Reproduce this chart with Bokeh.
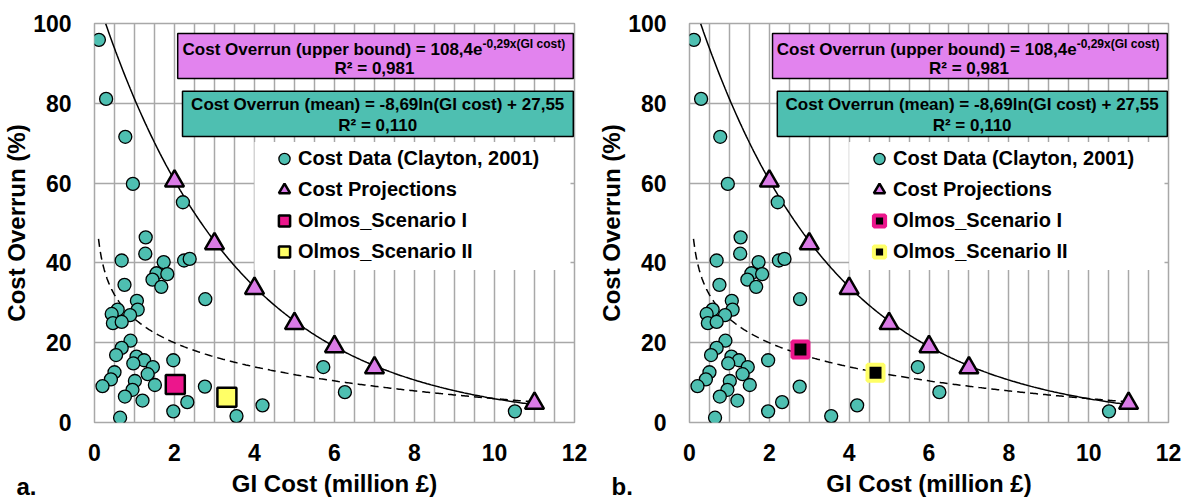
from bokeh.plotting import figure
from bokeh.layouts import row
from bokeh.models import Range1d, SingleIntervalTicker, Title
from bokeh.core.properties import value
from bokeh.embed import file_html
from bokeh.resources import INLINE
import numpy as np

# ---------------- data ----------------
cost_x = [0.11, 0.29, 0.77, 0.96, 2.21, 1.28, 1.27, 0.68, 1.73, 2.24,
          2.38, 1.55, 1.82, 1.45, 1.67, 0.75, 2.77, 1.06, 1.08, 0.58,
          0.43, 0.89, 0.46, 0.68, 0.90, 0.68, 0.54, 1.05, 1.24, 0.97,
          1.46, 1.33, 0.50, 0.41, 0.20, 1.01, 1.51, 0.95, 0.76, 1.20,
          1.97, 1.97, 2.32, 2.76, 3.55, 4.20, 0.64, 5.72, 6.26, 10.51]
cost_y = [95.9, 81.1, 71.6, 59.8, 55.2, 46.4, 42.3, 40.6, 40.2, 40.6,
          41.0, 37.4, 37.2, 35.8, 34.0, 34.5, 30.9, 30.5, 28.3, 28.3,
          27.2, 26.9, 24.9, 25.2, 20.5, 18.7, 16.9, 16.5, 15.6, 14.8,
          13.9, 12.1, 12.6, 10.8, 9.1, 10.4, 9.4, 8.2, 6.5, 5.5,
          15.6, 2.8, 5.1, 9.0, 1.6, 4.3, 1.2, 13.9, 7.6, 2.8]

proj_x = [2, 3, 4, 5, 6, 7, 11]
proj_y = [60.5, 44.8, 33.6, 24.8, 19.0, 13.7, 4.8]

olmos_a_x = [2.02, 3.31]
olmos_a_y = [9.5, 6.3]
olmos_b_x = [2.78, 4.66]
olmos_b_y = [18.3, 12.5]

legend_labels = ["Cost Data (Clayton, 2001)", "Cost Projections",
                 "Olmos_Scenario I", "Olmos_Scenario II"]

x_axis_title = "GI Cost (million £)"
y_axis_title = "Cost Overrun (%)"

# trend lines (coefficients of the fits)
upper_coef, upper_rate = 108.4, 0.29
mean_slope, mean_icpt_drawn = 8.69, 26.0

FONT = "Liberation Sans"
TEAL = "#4EBFB1"
VIOLET = "#E283EE"
TRI = "#DA7BE6"
MAGENTA = "#EC168C"
YELLOW = "#FFFF66"
GRID = "#A8A8A8"


def make_panel(tag, ox, oy, variant, left_border, right_border):
    p = figure(width=left_border + 481 + right_border, height=500,
               x_range=Range1d(0, 12), y_range=Range1d(0, 100),
               output_backend="svg", toolbar_location=None,
               min_border_left=left_border, min_border_right=right_border,
               min_border_top=23, min_border_bottom=78)
    p.background_fill_color = "white"
    p.border_fill_color = "white"
    p.outline_line_color = GRID
    p.outline_line_width = 1.5

    # grid
    p.xgrid.ticker = SingleIntervalTicker(interval=0.5)
    p.ygrid.ticker = SingleIntervalTicker(interval=20)
    for g in (p.xgrid, p.ygrid):
        g.grid_line_color = GRID
        g.grid_line_width = 1.5

    # axes
    p.xaxis.ticker = SingleIntervalTicker(interval=2)
    p.yaxis.ticker = SingleIntervalTicker(interval=20)
    for ax in (p.xaxis, p.yaxis):
        ax.axis_line_color = None
        ax.major_tick_line_color = None
        ax.minor_tick_line_color = None
        ax.major_tick_out = 0
        ax.major_tick_in = 0
        ax.major_label_text_font = FONT
        ax.major_label_text_font_style = "bold"
        ax.major_label_text_font_size = "23px"
        ax.major_label_text_color = "black"
        ax.axis_label_text_font = FONT
        ax.axis_label_text_font_style = "bold"
        ax.axis_label_text_font_size = "24px"
        ax.axis_label_text_color = "black"
    p.xaxis.axis_label = x_axis_title
    p.yaxis.axis_label = y_axis_title
    p.xaxis.major_label_standoff = 17
    p.xaxis.axis_label_standoff = 6
    p.yaxis.major_label_standoff = 19
    p.yaxis.axis_label_standoff = 0

    # white legend area covering grid
    p.quad(left=4.0, right=11.9, bottom=38.2, top=70.3,
           fill_color="white", line_color=None)

    # equation boxes
    p.quad(left=2.08, right=11.97, bottom=86.2, top=97.5,
           fill_color=VIOLET, line_color="black", line_width=1.5)
    p.quad(left=2.2, right=11.97, bottom=71.7, top=83.0,
           fill_color=TEAL, line_color="black", line_width=1.5)

    tf = value(FONT)
    common = dict(text_font=tf, text_font_style="bold",
                  text_baseline="alphabetic", text_color="black")
    p.text(x=[9.7], y=[93.5], text=["Cost Overrun (upper bound) = 108,4e"],
           text_font_size="17px", text_align="right", **common)
    p.text(x=[9.7], y=[94.8], text=["-0,29x(GI cost)"],
           text_font_size="12px", text_align="left", **common)
    p.text(x=[7.0], y=[88.7], text=["R² = 0,981"],
           text_font_size="17px", text_align="center", **common)
    p.text(x=[7.08], y=[79.6], text=["Cost Overrun (mean) = -8,69ln(GI cost) + 27,55"],
           text_font_size="17px", text_align="center", **common)
    p.text(x=[7.08], y=[74.4], text=["R² = 0,110"],
           text_font_size="17px", text_align="center", **common)

    # trend lines
    xu = np.linspace(0.28, 11.0, 300)
    p.line(xu, upper_coef * np.exp(-upper_rate * xu), line_color="black",
           line_width=1.5)
    xm = np.linspace(0.1, 10.9, 300)
    p.line(xm, mean_icpt_drawn - mean_slope * np.log(xm), line_color="black",
           line_width=1.5, line_dash="8 5")

    # markers
    p.scatter(cost_x, cost_y, marker="circle", size=13, fill_color=TEAL,
              line_color="black", line_width=1.3, legend_label=legend_labels[0])
    p.scatter(proj_x, proj_y, marker="triangle", size=19, fill_color=TRI,
              line_color="black", line_width=2.5, legend_label=legend_labels[1])
    if variant == "a":
        p.scatter(ox[:1], oy[:1], marker="square", size=19, fill_color=MAGENTA,
                  line_color="black", line_width=2.5, legend_label=legend_labels[2])
        p.scatter(ox[1:], oy[1:], marker="square", size=19, fill_color=YELLOW,
                  line_color="black", line_width=2.5, legend_label=legend_labels[3])
    else:
        p.scatter(ox[:1], oy[:1], marker="square", size=16, fill_color="black",
                  line_color=MAGENTA, line_width=4, legend_label=legend_labels[2])
        p.scatter(ox[1:], oy[1:], marker="square", size=16, fill_color="black",
                  line_color=YELLOW, line_width=4, legend_label=legend_labels[3])

    lg = p.legend[0]
    lg.location = (176, 155)
    lg.padding = 0
    lg.margin = 0
    lg.spacing = 0
    lg.glyph_width = 28
    lg.glyph_height = 31
    lg.label_height = 31
    lg.label_standoff = 0
    lg.border_line_color = None
    lg.background_fill_alpha = 0
    lg.label_text_font = FONT
    lg.label_text_font_style = "bold"
    lg.label_text_font_size = "20px"
    lg.label_text_color = "black"

    p.add_layout(Title(text=tag, align="left", vertical_align="top",
                       offset=-78, standoff=-54,
                       text_font=FONT, text_font_style="bold",
                       text_font_size="24px", text_color="black"), "below")
    return p


p1 = make_panel("a.", olmos_a_x, olmos_a_y, "a", 93, 21)
p2 = make_panel("b.", olmos_b_x, olmos_b_y, "b", 92, 17)

layout = row(p1, p2)
open("out.html", "w").write(file_html(layout, INLINE))
